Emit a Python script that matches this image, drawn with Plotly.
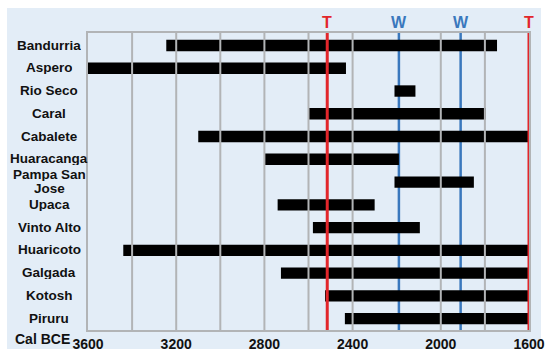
import plotly.graph_objects as go

# ---- data ----
sites = ["Bandurria", "Aspero", "Rio Seco", "Caral", "Cabalete", "Huaracanga",
         "Pampa San<br>Jose", "Upaca", "Vinto Alto", "Huaricoto", "Galgada",
         "Kotosh", "Piruru"]
start_bce = [3245, 3600, 2210, 2600, 3100, 2800, 2210, 2740, 2580, 3440, 2725, 2525, 2435]
end_bce = [1745, 2430, 2115, 1795, 1600, 2190, 1850, 2300, 2095, 1600, 1600, 1600, 1600]

tick_vals = [3600, 3200, 2800, 2400, 2000, 1600]
tick_text = ["3600", "3200", "2800", "2400", "2000", "1600"]
grid_vals = [3400, 3200, 3000, 2800, 2600, 2400, 2000, 1800]

event_labels = ["T", "W", "W", "T"]
event_years = [2515, 2190, 1910, 1600]

RED = "#e2262b"
BLUE = "#3a78bd"
PANEL = "#e3edf7"
GRID = "#b2b4b6"
FONT = "Liberation Sans, Arial, sans-serif"

durations = [s - e for s, e in zip(start_bce, end_bce)]

fig = go.Figure()
fig.add_trace(go.Bar(
    y=sites, x=durations, base=end_bce, orientation="h",
    marker=dict(color="black", line=dict(width=0)), width=0.5,
    showlegend=False,
))

shapes = []
# panel background
shapes.append(dict(type="rect", xref="paper", yref="paper",
                   x0=-0.1837, x1=1.0272, y0=-0.064, y1=1.0842,
                   fillcolor=PANEL, line=dict(width=0), layer="below"))
# vertical grid lines (above the bars)
for g in grid_vals:
    shapes.append(dict(type="line", xref="x", yref="paper", x0=g, x1=g, y0=0, y1=1,
                       line=dict(color=GRID, width=2), layer="above"))
annotations = []
for lab, yr in zip(event_labels, event_years):
    col = RED if lab == "T" else BLUE
    shapes.append(dict(type="line", xref="x", yref="paper", x0=yr, x1=yr, y0=0, y1=1,
                       line=dict(color=col, width=3 if lab == "T" else 2.5),
                       layer="above" if lab == "T" else "below"))
    annotations.append(dict(text="<b>%s</b>" % lab, xref="x", yref="paper", x=yr, y=1.0,
                            yanchor="bottom", xanchor="center", showarrow=False,
                            font=dict(color=col, size=16, family=FONT)))

for s in sites:
    lines = s.split("<br>")
    k = len(lines)
    for i, ln in enumerate(lines):
        annotations.append(dict(text="<b>%s</b>" % ln, xref="paper", yref="y", x=-0.0884, y=s,
                                xanchor="center", yanchor="middle", showarrow=False,
                                height=14, borderpad=0, valign="middle",
                                yshift=((k - 1) / 2 - i) * 14 + 1,
                                font=dict(color="#111111", size=13.5, family=FONT)))
annotations.append(dict(text="<b>Cal BCE</b>", xref="paper", yref="paper", x=-0.103, y=-0.031,
                        xanchor="center", yanchor="middle", showarrow=False,
                        font=dict(color="#111111", size=14, family=FONT)))

n = len(sites)
fig.update_layout(
    width=550, height=358,
    margin=dict(l=88, r=21, t=33, b=28),
    paper_bgcolor="white", plot_bgcolor="rgba(0,0,0,0)",
    shapes=shapes, annotations=annotations,
    xaxis=dict(range=[3600, 1600], tickvals=tick_vals, ticktext=tick_text,
               showgrid=False, zeroline=False, showline=True, mirror=True,
               linecolor=GRID, linewidth=2, ticks="", automargin=False,
               tickfont=dict(size=14, family=FONT, color="#111111", weight="bold")),
    yaxis=dict(type="category", categoryorder="array", categoryarray=sites,
               range=[n - 1 + 0.5, -0.55], showticklabels=False, showgrid=False,
               zeroline=False, showline=True, mirror=True, linecolor=GRID, linewidth=2,
               ticks="", automargin=False),
    bargap=0.5,
)

fig.write_html("out.html", config={"displayModeBar": False},
               post_script="document.body.style.margin='0';document.body.style.padding='0';")
